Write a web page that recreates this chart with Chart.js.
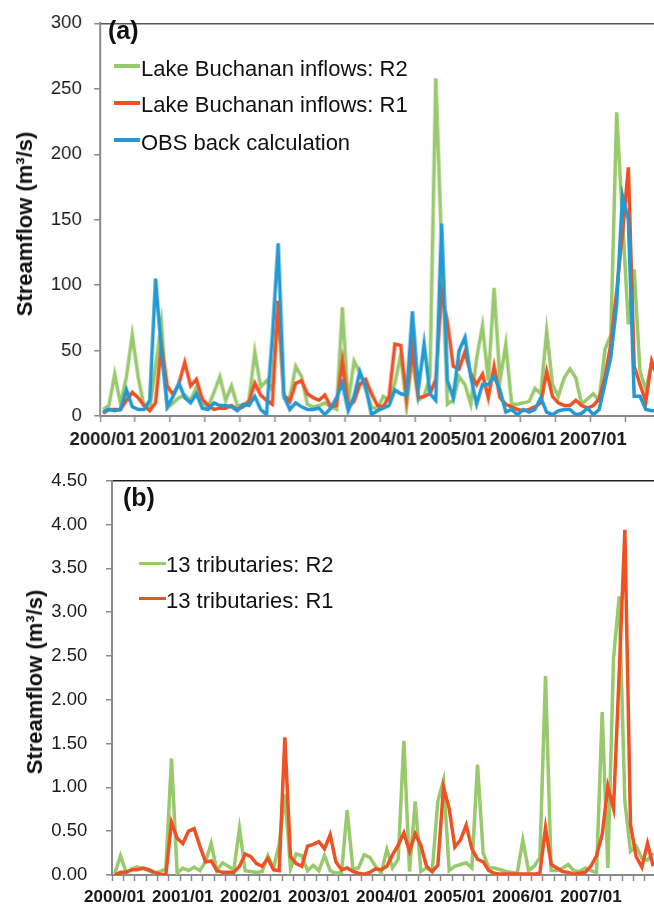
<!DOCTYPE html>
<html>
<head>
<meta charset="utf-8">
<script src="https://cdn.jsdelivr.net/npm/chart.js@4.4.1/dist/chart.umd.min.js"></script>
<style>
  html, body { margin: 0; padding: 0; background: #fff; overflow: hidden; }
  body { width: 654px; height: 906px; position: relative; font-family: "Liberation Sans", Arial, sans-serif; color: #111; }
  .box { position: absolute; left: 0; }
  #boxA { top: 0; width: 663.5px; height: 450px; }
  #boxB { top: 450px; width: 659.2px; height: 456px; }
  .panel { position: absolute; font-weight: bold; font-size: 25px; line-height: 26px; white-space: nowrap; }
  .ytitle { position: absolute; font-weight: bold; font-size: 22px; line-height: 26px; white-space: nowrap;
            transform: translate(-50%, -50%) rotate(-90deg); }
  .leg { position: absolute; font-size: 22px; line-height: 26px; white-space: nowrap; }
  .sw { position: absolute; height: 3.5px; }
</style>
</head>
<body>
<div class="box" id="boxA"><canvas id="chartA"></canvas></div>
<div class="box" id="boxB"><canvas id="chartB"></canvas></div>
<div class="panel" style="left:108px; top:17px;">(a)</div>
<div class="panel" style="left:123px; top:484px;">(b)</div>
<div class="ytitle" style="left:25px; top:224px;">Streamflow (m³/s)</div>
<div class="ytitle" style="left:35px; top:682px;">Streamflow (m³/s)</div>
<script>
// monthly categories 2000/01 .. 2007/12
const months = [];
for (let y = 2000; y <= 2007; y++) {
  for (let m = 1; m <= 12; m++) months.push(y + '/' + String(m).padStart(2, '0'));
}
const xTickLabels = ['2000/01', '2001/01', '2002/01', '2003/01', '2004/01', '2005/01', '2006/01', '2007/01'];
const yTicksA = [0, 50, 100, 150, 200, 250, 300];
const yTicksB = [0, 0.5, 1, 1.5, 2, 2.5, 3, 3.5, 4, 4.5];

// (a) Lake Buchanan inflows, m3/s
const lakeR2 = [5, 8, 32, 9, 30, 62, 30, 8, 5, 38, 71, 6,
  10, 14, 16, 12, 22, 10, 7, 18, 30, 12, 23, 8,
  8, 12, 49, 22, 27, 20, 80, 14, 14, 38, 30, 9,
  7, 8, 10, 7, 5, 83, 10, 42, 33, 20, 7, 5,
  15, 12, 25, 47, 7, 45, 12, 15, 30, 258, 130, 9,
  12, 30, 24, 9, 44, 69, 27, 98, 27, 55, 9, 9,
  10, 11, 21, 17, 65, 24, 15, 29, 36, 29, 9, 13,
  17, 12, 51, 62, 232, 150, 70, 112, 34, 20, 40, 30];
const lakeR1 = [2, 5, 5, 5, 12, 18, 14, 8, 4, 10, 54, 23,
  16, 25, 41, 23, 28, 13, 8, 5, 6, 6, 8, 5,
  7, 11, 25, 16, 12, 9, 88, 16, 11, 25, 27, 17,
  14, 12, 16, 7, 8, 42, 7, 11, 24, 28, 17, 8,
  7, 15, 55, 54, 14, 52, 14, 15, 17, 28, 94, 72,
  38, 36, 49, 32, 24, 32, 14, 38, 14, 9, 7, 5,
  4, 5, 7, 10, 34, 15, 10, 8, 8, 12, 8, 6,
  8, 13, 30, 55, 95, 140, 190, 38, 24, 11, 42, 30];
const obsBack = [3, 5, 4, 5, 20, 7, 5, 5, 12, 105, 50, 7,
  15, 25, 14, 10, 17, 6, 5, 10, 8, 8, 7, 4,
  9, 8, 15, 5, 1, 60, 132, 15, 5, 10, 7, 5,
  5, 6, 1, 6, 14, 25, 4, 15, 34, 22, 1, 4,
  6, 8, 20, 17, 16, 80, 20, 55, 17, 12, 147, 27,
  14, 50, 60, 30, 9, 24, 24, 30, 20, 3, 5, 1,
  5, 3, 5, 14, 3, 1, 4, 5, 5, 1, 2, 6,
  1, 5, 25, 45, 85, 168, 150, 15, 15, 5, 4, 4];

// (b) 13 tributaries, m3/s
const tribR2 = [0.02, 0.22, 0.03, 0.07, 0.09, 0.07, 0.05, 0.02, 0.04, 0.07, 1.33, 0.02,
  0.08, 0.05, 0.09, 0.05, 0.15, 0.36, 0.05, 0.14, 0.10, 0.06, 0.53, 0.05,
  0.04, 0.03, 0.04, 0.22, 0.08, 0.35, 0.92, 0.07, 0.24, 0.22, 0.05, 0.11,
  0.05, 0.22, 0.05, 0.02, 0.03, 0.74, 0.07, 0.08, 0.23, 0.20, 0.10, 0.02,
  0.29, 0.08, 0.18, 1.53, 0.04, 0.84, 0.04, 0.08, 0.04, 0.84, 1.08, 0.05,
  0.10, 0.12, 0.14, 0.08, 1.26, 0.25, 0.08, 0.08, 0.06, 0.04, 0.03, 0.02,
  0.40, 0.05, 0.10, 0.20, 2.27, 0.05, 0.05, 0.08, 0.12, 0.05, 0.04, 0.08,
  0.05, 0.03, 1.86, 0.08, 2.47, 3.18, 0.84, 0.27, 0.33, 0.19, 0.17, 0.25];
const tribR1 = [0.00, 0.03, 0.03, 0.06, 0.06, 0.08, 0.06, 0.03, 0.01, 0.00, 0.60, 0.42,
  0.36, 0.50, 0.53, 0.33, 0.15, 0.16, 0.05, 0.03, 0.03, 0.03, 0.10, 0.24,
  0.21, 0.13, 0.10, 0.19, 0.06, 0.05, 1.57, 0.21, 0.13, 0.10, 0.33, 0.35,
  0.38, 0.30, 0.46, 0.15, 0.06, 0.08, 0.04, 0.02, 0.01, 0.03, 0.07, 0.06,
  0.10, 0.23, 0.34, 0.48, 0.27, 0.47, 0.34, 0.10, 0.04, 0.11, 1.00, 0.76,
  0.32, 0.40, 0.57, 0.30, 0.18, 0.15, 0.05, 0.02, 0.01, 0.01, 0.01, 0.01,
  0.01, 0.01, 0.01, 0.02, 0.54, 0.12, 0.08, 0.04, 0.03, 0.01, 0.02, 0.03,
  0.10, 0.22, 0.46, 1.01, 0.76, 2.30, 3.94, 0.57, 0.21, 0.09, 0.36, 0.10];

const GREEN = '#98C96C';
const RED = '#EE5224';
const BLUE = '#2399D3';
const AXIS = '#8a8a8a';
const TXT = '#1a1a1a';
const FONT = '"Liberation Sans", Arial, sans-serif';

function line(label, data, color, order) {
  return { label: label, data: data, borderColor: color, backgroundColor: color,
           borderWidth: 3.5, pointRadius: 0, tension: 0, fill: false, order: order };
}

function makeChart(id, datasets, p) {
  return new Chart(document.getElementById(id), {
    type: 'line',
    data: { labels: months, datasets: datasets },
    options: {
      responsive: true,
      maintainAspectRatio: false,
      animation: false,
      layout: { padding: { top: p.top, left: 0, right: 0, bottom: 0 } },
      plugins: { legend: { display: false }, tooltip: { enabled: false } },
      scales: {
        x: {
          type: 'category',
          offset: true,
          grid: {
            offset: true, drawOnChartArea: false, tickLength: 6, tickWidth: 1.5,
            tickColor: c => (c.index % p.tickEvery === 0 ? AXIS : 'transparent')
          },
          border: { color: AXIS, width: 2 },
          ticks: {
            autoSkip: false, maxRotation: 0, minRotation: 0, padding: p.xpad, color: TXT,
            font: { family: FONT, size: p.xFont, weight: 'bold' },
            callback: function (v) {
              const l = this.getLabelForValue(v);
              return xTickLabels.includes(l) ? l : '';
            }
          },
          afterFit: s => { s.height = p.xh; }
        },
        y: {
          min: 0,
          max: p.max,
          afterBuildTicks: s => { s.ticks = p.yTicks.map(v => ({ value: v })); },
          grid: {
            lineWidth: 1.5, tickLength: 6, tickWidth: 1.5, tickColor: AXIS,
            color: c => (c.tick && c.tick.value === p.max ? p.topLine : 'transparent')
          },
          border: { color: AXIS, width: 2 },
          ticks: {
            padding: p.ypad, color: TXT, font: { family: FONT, size: 18.5 },
            callback: v => p.fmt(v)
          },
          afterFit: s => { s.width = p.left; }
        }
      }
    }
  });
}

const dsA = [
  line('Lake Buchanan inflows: R2', lakeR2, GREEN, 3),
  line('Lake Buchanan inflows: R1', lakeR1, RED, 2),
  line('OBS back calculation', obsBack, BLUE, 1)
];
const dsB = [
  line('13 tributaries: R2', tribR2, GREEN, 2),
  line('13 tributaries: R1', tribR1, RED, 1)
];

makeChart('chartA', dsA, {
  top: 15, left: 100, xh: 34, xpad: 7, xFont: 18.5, ypad: 12.3, tickEvery: 6,
  max: 300, yTicks: yTicksA, topLine: '#555', fmt: v => String(v)
});
makeChart('chartB', dsB, {
  top: 30.7, left: 112, xh: 31, xpad: 6, xFont: 17, ypad: 18.7, tickEvery: 2,
  max: 4.5, yTicks: yTicksB, topLine: '#222', fmt: v => v.toFixed(2)
});

// legends inside the plot areas, built from the datasets
function legend(datasets, swLeft, swWidth, textLeft, textTops, swTops) {
  datasets.forEach((d, i) => {
    const sw = document.createElement('div');
    sw.className = 'sw';
    sw.style.left = swLeft + 'px';
    sw.style.width = swWidth + 'px';
    sw.style.top = swTops[i] + 'px';
    sw.style.background = d.borderColor;
    document.body.appendChild(sw);
    const t = document.createElement('div');
    t.className = 'leg';
    t.style.left = textLeft + 'px';
    t.style.top = textTops[i] + 'px';
    t.textContent = d.label;
    document.body.appendChild(t);
  });
}
legend(dsA, 114, 26, 141, [56, 92, 130], [64, 101, 138.3]);
legend(dsB, 139.3, 26.7, 166, [552, 588], [561.6, 596.6]);
</script>
</body>
</html>
